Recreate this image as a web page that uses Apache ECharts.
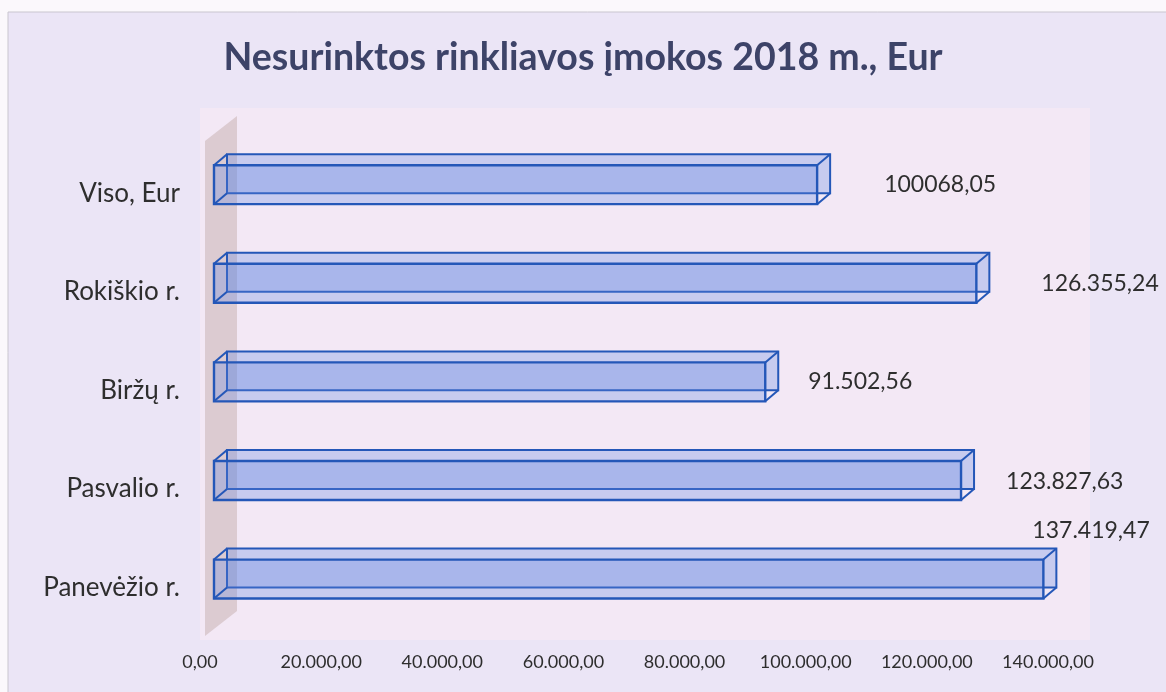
<!DOCTYPE html>
<html>
<head>
<meta charset="utf-8">
<script src="https://cdn.jsdelivr.net/npm/echarts@6/dist/echarts.min.js"></script>
<style>
  html, body { margin: 0; padding: 0; background: #fbf8fc; }
  #chart { width: 1166px; height: 692px; }
</style>
</head>
<body>
<div id="chart"></div>
<script>
  // duomenys
  var categories = ['Viso, Eur', 'Rokiškio r.', 'Biržų r.', 'Pasvalio r.', 'Panevėžio r.'];
  var values = [100068.05, 126355.24, 91502.56, 123827.63, 137419.47];
  var valueLabels = ['100068,05', '126.355,24', '91.502,56', '123.827,63', '137.419,47'];
  var xTicks = [0, 20000, 40000, 60000, 80000, 100000, 120000, 140000];

  // label placement (px from the end of the bar / from centre), not data
  var labelShift = [[54, -9], [52, -8], [30, -9], [32, -8], [-24, -57]];

  var DX = 13, DY = -11; // depth of the 3d box

  function fmtAxis(v) {
    var s = Math.round(v).toString().replace(/\B(?=(\d{3})+(?!\d))/g, '.');
    return s + ',00';
  }

  function renderBox(params, api) {
    var val = api.value(0);
    var cat = api.value(1);
    var start = api.coord([0, cat]);
    var end = api.coord([val, cat]);
    var band = api.size([0, 1])[1];
    var h = band * 0.395;
    var top = start[1] - band * 0.285;
    var x0 = start[0] + 14, x1 = end[0] + 11;
    var bot = top + h;
    var line = '#2457b8';
    var fill = 'rgba(100,135,225,0.3)';
    var lbl = labelShift[params.dataIndex];
    return {
      type: 'group',
      children: [
        // back face
        { type: 'rect', shape: { x: x0 + DX, y: top + DY, width: x1 - x0, height: h },
          style: { fill: fill, stroke: line, lineWidth: 2 } },
        // front face
        { type: 'rect', shape: { x: x0, y: top, width: x1 - x0, height: h },
          style: { fill: fill, stroke: line, lineWidth: 2.4 } },
        // edges
        { type: 'polyline', shape: { points: [[x0, top], [x0 + DX, top + DY]] }, style: { stroke: line, lineWidth: 2, fill: null } },
        { type: 'polyline', shape: { points: [[x1, top], [x1 + DX, top + DY]] }, style: { stroke: line, lineWidth: 2, fill: null } },
        { type: 'polyline', shape: { points: [[x1, bot], [x1 + DX, bot + DY]] }, style: { stroke: line, lineWidth: 2, fill: null } },
        { type: 'polyline', shape: { points: [[x0, bot], [x0 + DX, bot + DY]] }, style: { stroke: line, lineWidth: 2, fill: null } },
        // value label
        { type: 'text', x: x1 + DX + lbl[0], y: start[1] + lbl[1],
          style: { text: valueLabels[params.dataIndex], fill: '#2e2e2e', font: '23px Lato', verticalAlign: 'middle', align: 'left' } }
      ]
    };
  }

  var myChart = echarts.init(document.getElementById('chart'));

  var option = {
    backgroundColor: '#fbf8fc',
    animation: false,
    title: {
      text: 'Nesurinktos rinkliavos įmokos 2018 m., Eur',
      left: 'center',
      top: 34,
      textStyle: { fontFamily: 'Lato', fontWeight: 'bold', fontSize: 37.5, color: '#3d4368' }
    },
    graphic: [
      // outer frame
      { type: 'rect', shape: { x: 8, y: 12, width: 1170, height: 700 }, z: -10,
        style: { fill: '#ebe5f6', stroke: '#c9c6cf', lineWidth: 1 } },
      // plot area
      { type: 'rect', shape: { x: 200, y: 108, width: 890, height: 532 }, z: -9,
        style: { fill: '#f3e8f5' } },
      // side wall
      { type: 'polygon', shape: { points: [[205, 141], [237, 116], [237, 611], [205, 636]] }, z: -8,
        style: { fill: '#dccbd1' } }
    ],
    grid: {
      left: 200,
      right: 118,
      top: 144,
      bottom: 55
    },
    xAxis: {
      type: 'value',
      min: 0,
      max: 140000,
      interval: 20000,
      axisLine: { show: false },
      axisTick: { show: false },
      splitLine: { show: false },
      axisLabel: {
        margin: 16,
        color: '#2e2e2e',
        fontFamily: 'Lato',
        fontSize: 18,
        formatter: fmtAxis
      }
    },
    yAxis: {
      type: 'category',
      inverse: true,
      data: categories,
      axisLine: { show: false },
      axisTick: { show: false },
      axisLabel: {
        margin: 20,
        color: '#2e2e2e',
        fontFamily: 'Lato',
        fontSize: 26
      }
    },
    series: [
      {
        type: 'custom',
        renderItem: renderBox,
        encode: { x: 0, y: 1 },
        data: values.map(function (v, i) { return [v, i]; })
      }
    ]
  };
  myChart.setOption(option);
</script>
</body>
</html>
